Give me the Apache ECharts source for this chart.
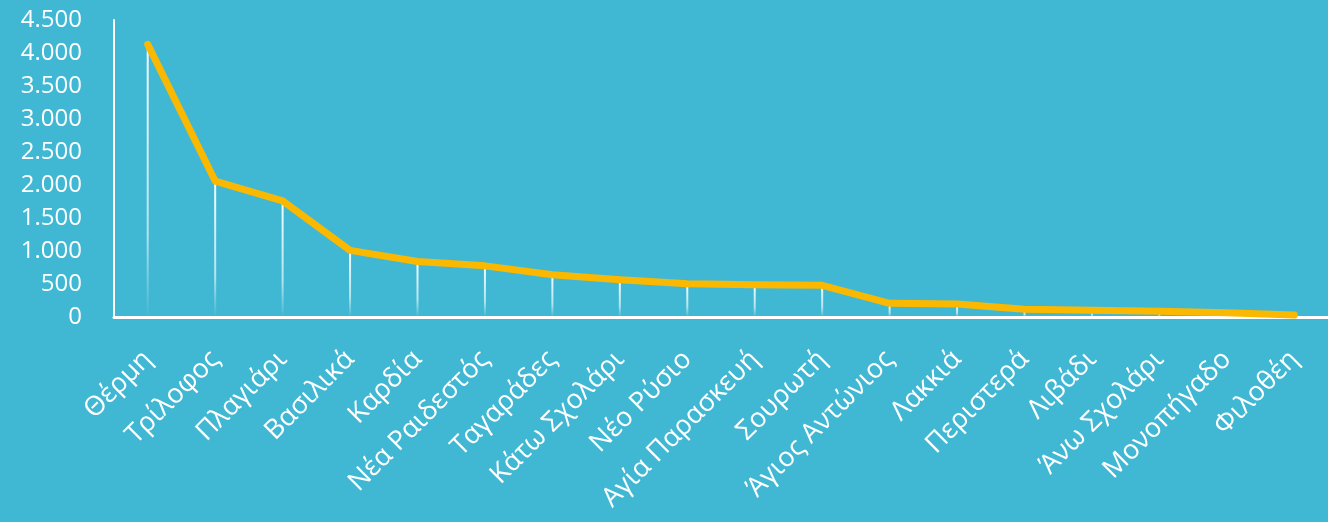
<!DOCTYPE html>
<html>
<head>
<meta charset="utf-8">
<script src="https://cdn.jsdelivr.net/npm/echarts@6/dist/echarts.min.js"></script>
<style>
  html, body { margin: 0; padding: 0; background: #41B8D3; }
  #chart { width: 1328px; height: 522px; }
</style>
</head>
<body>
<div id="chart"></div>
<script>
// Population per local community
const communities = [
  'Θέρμη', 'Τρίλοφος', 'Πλαγιάρι', 'Βασιλικά', 'Καρδία', 'Νέα Ραιδεστός',
  'Ταγαράδες', 'Κάτω Σχολάρι', 'Νέο Ρύσιο', 'Αγία Παρασκευή', 'Σουρωτή',
  'Άγιος Αντώνιος', 'Λακκιά', 'Περιστερά', 'Λιβάδι', 'Άνω Σχολάρι',
  'Μονοπήγαδο', 'Φιλοθέη'
];
const population = [
  4130, 2060, 1760, 1010, 840, 775,
  640, 565, 505, 490, 480,
  207, 197, 116, 101, 86,
  65, 30
];
const yMax = 4500;
const yStep = 500;

// thousands separator as used in Greek: 4.500
function fmtThousands(v) {
  return String(v).replace(/\B(?=(\d{3})+(?!\d))/g, '.');
}

const chart = echarts.init(document.getElementById('chart'));
chart.setOption({
  backgroundColor: '#41B8D3',
  animation: false,
  grid: { left: 114, right: -4, top: 20, bottom: 205, containLabel: false },
  xAxis: {
    type: 'category',
    data: communities,
    boundaryGap: true,
    axisLine: { show: true, lineStyle: { color: '#FFFFFF', width: 3 } },
    axisTick: { show: false },
    axisLabel: {
      interval: 0,
      rotate: 45,
      margin: 38,
      color: '#FFFFFF',
      fontFamily: 'Open Sans',
      fontSize: 27
    },
    splitLine: { show: false }
  },
  yAxis: {
    type: 'value',
    min: 0,
    max: yMax,
    interval: yStep,
    axisLine: { show: true, lineStyle: { color: '#FFFFFF', width: 2 } },
    axisTick: { show: false },
    splitLine: { show: false },
    axisLabel: {
      margin: 32,
      color: '#FFFFFF',
      fontFamily: 'Open Sans',
      fontSize: 24,
      formatter: fmtThousands
    }
  },
  series: [
    {
      // drop lines from each point down to the axis
      type: 'bar',
      data: population,
      barWidth: 2,
      z: 1,
      silent: true,
      itemStyle: {
        color: new echarts.graphic.LinearGradient(0, 0, 0, 1, [
          { offset: 0, color: 'rgba(255,255,255,0.95)' },
          { offset: 0.7, color: 'rgba(255,255,255,0.6)' },
          { offset: 1, color: 'rgba(255,255,255,0)' }
        ])
      }
    },
    {
      type: 'line',
      data: population,
      z: 3,
      showSymbol: false,
      symbol: 'none',
      lineStyle: { color: '#FBB800', width: 7, cap: 'round', join: 'round' }
    }
  ]
});
</script>
</body>
</html>
